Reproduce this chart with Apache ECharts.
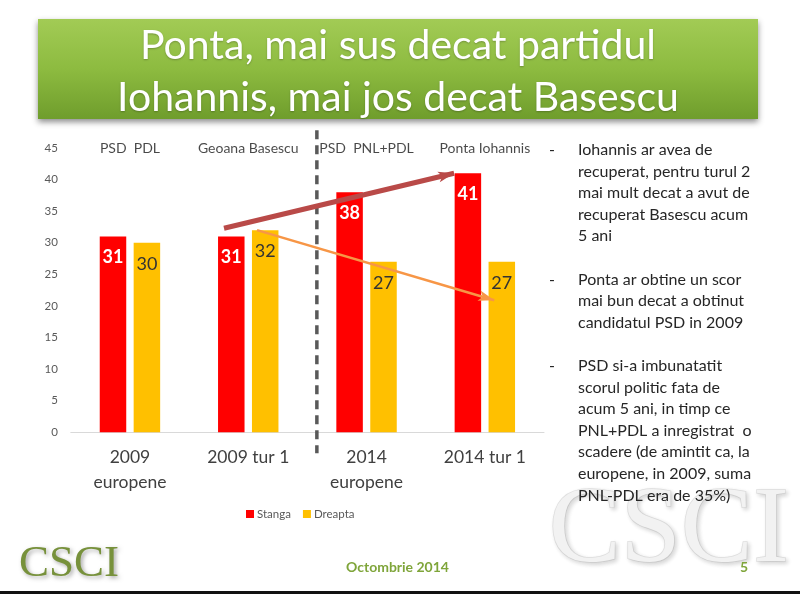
<!DOCTYPE html>
<html>
<head>
<meta charset="utf-8">
<script src="https://cdn.jsdelivr.net/npm/echarts@6/dist/echarts.min.js"></script>
<style>
html,body{margin:0;padding:0;background:#fff;}
#c{width:800px;height:594px;}
</style>
</head>
<body>
<div id="c"></div>
<script>
// ---- data ----
var categories = ['2009\neuropene', '2009 tur 1', '2014\neuropene', '2014 tur 1'];
var stanga = [31, 31, 38, 41];
var dreapta = [30, 32, 27, 27];
var candidates = ['PSD  PDL', 'Geoana Basescu', 'PSD  PNL+PDL', 'Ponta Iohannis'];
var yTicks = [0, 5, 10, 15, 20, 25, 30, 35, 40, 45];
// separator and arrows, in (category-index, percent) units
var separator = [[1.58, 47.8], [1.58, -3.3]];
var redArrow = [[0.795, 32.3], [2.74, 41.0]];
var orangeArrow = [[1.074, 32.0], [3.08, 20.9]];
var titleLines = ['Ponta, mai sus decat partidul', 'Iohannis, mai jos decat Basescu'];
var notes = [
  ['Iohannis ar avea de', 'recuperat, pentru turul 2', 'mai mult decat a avut de', 'recuperat Basescu acum', '5 ani'],
  ['Ponta ar obtine un scor', 'mai bun decat a obtinut', 'candidatul PSD in 2009'],
  ['PSD si-a imbunatatit', 'scorul politic fata de', 'acum 5 ani, in timp ce', 'PNL+PDL a inregistrat  o', 'scadere (de amintit ca, la', 'europene, in 2009, suma', 'PNL-PDL era de 35%)']
];
var footerDate = 'Octombrie 2014';
var pageNo = '5';

var FONT = 'Lato, "Open Sans", sans-serif';
var chart = echarts.init(document.getElementById('c'));

// build notes text
var noteText = notes.map(function (p) { return p.join('\n'); }).join('\n\n');
var LH = 21.6;
var dashGraphics = [];
var lineIdx = 0;
notes.forEach(function (p) {
  dashGraphics.push({
    type: 'text', left: 549, top: 139 + lineIdx * LH,
    style: { text: '-', font: '16px ' + FONT, fill: '#262626', lineHeight: LH }
  });
  lineIdx += p.length + 1;
});

var titleGraphics = titleLines.map(function (t, i) {
  return {
    type: 'text',
    style: {
      x: 398, y: 46 + i * 52, text: t, font: '41px ' + FONT, fill: '#ffffff',
      textAlign: 'center', textVerticalAlign: 'middle',
      textShadowBlur: 2, textShadowColor: 'rgba(0,0,0,0.25)', textShadowOffsetY: 1
    }
  };
});

var option = {
  backgroundColor: '#ffffff',
  animation: false,
  textStyle: { fontFamily: FONT },
  graphic: [
    {
      type: 'rect', shape: { x: 38, y: 19, width: 720, height: 100 },
      style: {
        fill: new echarts.graphic.LinearGradient(0, 0, 0, 1, [
          { offset: 0, color: '#a2cb55' },
          { offset: 0.5, color: '#8dbb40' },
          { offset: 1, color: '#6f9d2c' }
        ]),
        shadowBlur: 6, shadowOffsetY: 3, shadowColor: 'rgba(0,0,0,0.45)'
      }
    }
  ].concat(titleGraphics).concat([
    {
      type: 'text', left: 548, top: 478,
      style: {
        text: 'CSCI', font: '108px "Liberation Serif", serif', fill: '#f2f2f2',
        stroke: '#e0e0e0', lineWidth: 1.5,
        textShadowBlur: 4, textShadowColor: 'rgba(0,0,0,0.14)', textShadowOffsetX: 2, textShadowOffsetY: 2
      },
      z: -10
    },
    {
      type: 'text', left: 578, top: 139,
      style: { text: noteText, font: '16px ' + FONT, fill: '#262626', lineHeight: LH }
    }
  ]).concat(dashGraphics).concat([
    {
      type: 'text', left: 19, top: 542,
      style: {
        text: 'CSCI', font: '45px "Liberation Serif", serif', fill: '#77913b',
        textShadowBlur: 4, textShadowColor: 'rgba(0,0,0,0.35)', textShadowOffsetX: 2, textShadowOffsetY: 2
      }
    },
    {
      type: 'text', left: 346, top: 560,
      style: { text: footerDate, font: 'bold 14px ' + FONT, fill: '#7fa53a' }
    },
    {
      type: 'text', left: 740, top: 560,
      style: { text: pageNo, font: 'bold 14px ' + FONT, fill: '#7fa53a' }
    },
    {
      type: 'rect', shape: { x: 0, y: 591, width: 800, height: 3 },
      style: { fill: '#111111' }
    }
  ]),
  legend: {
    left: 241, top: 503, itemWidth: 8, itemHeight: 8, itemGap: 12, icon: 'rect',
    textStyle: { fontSize: 11.5, color: '#595959', padding: [0, 0, 0, -2] },
    data: ['Stanga', 'Dreapta']
  },
  grid: { left: 70.8, right: 256, top: 148, bottom: 161.7 },
  xAxis: [
    {
      type: 'category', data: categories,
      axisLine: { lineStyle: { color: '#d9d9d9', width: 1 } },
      axisTick: { show: false },
      axisLabel: { fontSize: 17.5, color: '#404040', lineHeight: 25, margin: 13, interval: 0 }
    },
    { type: 'value', min: -0.5, max: 3.5, show: false }
  ],
  yAxis: {
    type: 'value', min: yTicks[0], max: yTicks[yTicks.length - 1], interval: yTicks[1] - yTicks[0],
    axisLine: { show: false }, axisTick: { show: false }, splitLine: { show: false },
    axisLabel: { fontSize: 11.5, color: '#595959', margin: 13 }
  },
  series: [
    {
      name: 'Stanga', type: 'bar', data: stanga, barWidth: 26.5, barGap: '28%',
      itemStyle: { color: '#ff0000' },
      label: { show: true, position: 'insideTop', distance: 12, color: '#ffffff', fontWeight: 'bold', fontSize: 18 }
    },
    {
      name: 'Dreapta', type: 'bar', data: dreapta, barWidth: 26.5,
      itemStyle: { color: '#ffc000' },
      label: { show: true, position: 'insideTop', distance: 12, color: '#333333', fontSize: 18 }
    },
    {
      type: 'scatter', symbolSize: 0, silent: true,
      data: candidates.map(function (c, i) { return [i, yTicks[yTicks.length - 1]]; }),
      label: {
        show: true, position: 'inside', color: '#1a1a1a', fontSize: 14,
        formatter: function (p) { return candidates[p.dataIndex]; }
      }
    },
    {
      type: 'line', xAxisIndex: 1, data: separator, clip: false, symbol: 'none', silent: true,
      lineStyle: { color: '#595959', width: 3.5, type: [9, 6] },
      markLine: {
        silent: true, symbol: ['none', 'arrow'], label: { show: false },
        data: [
          [{ coord: redArrow[0], lineStyle: { color: '#b94a48', width: 5, type: 'solid' }, symbolSize: [16, 18] },
           { coord: redArrow[1] }],
          [{ coord: orangeArrow[0], lineStyle: { color: '#f79646', width: 2.5, type: 'solid' }, symbolSize: [10, 12] },
           { coord: orangeArrow[1] }]
        ]
      }
    }
  ]
};
chart.setOption(option);
</script>
</body>
</html>
